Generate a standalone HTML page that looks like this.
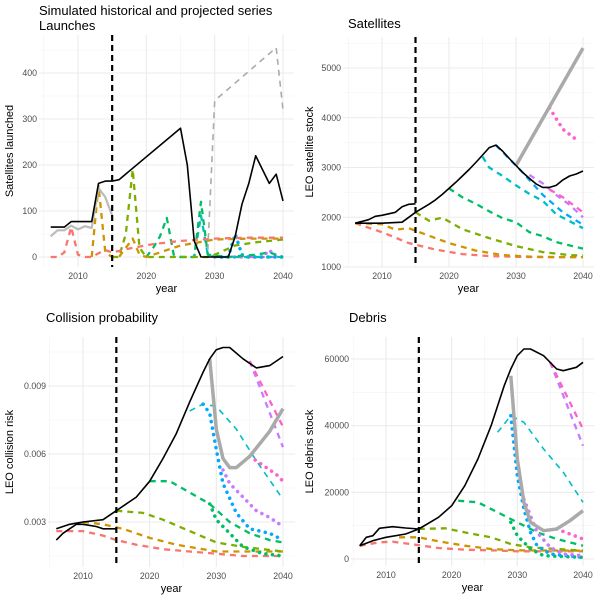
<!DOCTYPE html>
<html><head><meta charset="utf-8"><style>
html,body{margin:0;padding:0;background:#fff;}
svg{display:block;font-family:"Liberation Sans",sans-serif;}
</style></head><body>
<svg id="chart" width="600" height="600" viewBox="0 0 600 600">
<text x="39" y="15" font-size="13" fill="#000">Simulated historical and projected series</text>
</svg>
<script>
// ---- data ----
const col = {red:"#F8766D",mus:"#CD9600",grn:"#7CAE00",tea:"#00BE67",cya:"#00BFC4",blu:"#00A9FF",pur:"#C77CFF",pnk:"#FF61CC",blk:"#000",gry:"#aaa"};

const launchTicks = [0,100,200,300,400];
const launchBlack = [[2006,65],[2008,65],[2009,77],[2012,77],[2013,160],[2014,165],[2015,165],[2016,168],[2025,280],[2026,200],[2027,35],[2028,0],[2032,0],[2033,45],[2034,115],[2035,160],[2036,220],[2037,190],[2038,160],[2039,180],[2040,122]];
const launchHist = [[2006,45],[2007,58],[2008,58],[2009,68],[2010,60],[2011,67],[2012,63],[2013,150],[2014,130],[2015,90]];
const launchGreyDash = [[2029,15],[2030,340],[2039,455],[2040,320]];
const launchRed = [[2006,0],[2007,0],[2008,10],[2009,65],[2010,5],[2011,0],[2012,0],[2013,8],[2014,15],[2015,10],[2018,20],[2021,28],[2025,35],[2030,40],[2035,42],[2040,42]];
const launchMus = [[2012,0],[2013,155],[2014,10],[2015,0],[2016,0],[2017,20],[2018,40],[2019,5],[2020,0],[2022,10],[2025,25],[2030,38],[2035,40],[2040,40]];
const launchGrn = [[2015,0],[2016,0],[2017,50],[2018,190],[2019,20],[2020,0],[2029,0],[2030,5],[2033,25],[2036,32],[2040,38]];
const launchTea = [[2020,0],[2021,20],[2022,45],[2023,85],[2024,5],[2025,0],[2027,0],[2028,120],[2029,5],[2032,0],[2036,5],[2038,10],[2040,0]];
const launchCya = [[2025,0],[2027,0],[2028,90],[2029,5],[2030,0],[2040,0]];
const launchBlu = [[2031,0],[2032,0],[2033,50],[2034,5],[2035,0],[2040,0]];
const launchPur = [[2030,0],[2037,0],[2038,15],[2039,0],[2040,0]];
const launchPnk = [[2030,0],[2040,0]];

const satTicks = [1000,2000,3000,4000,5000];
const satBlack = [[2006,1880],[2010,1880],[2013,1900],[2014,2000],[2015,2100],[2016,2180],[2017,2260],[2018,2350],[2019,2460],[2020,2580],[2021,2700],[2022,2830],[2023,2960],[2024,3100],[2025,3250],[2026,3400],[2027,3450],[2028,3330],[2029,3180],[2030,3040],[2031,2900],[2032,2780],[2033,2670],[2034,2600],[2035,2600],[2036,2640],[2037,2750],[2038,2830],[2039,2870],[2040,2930]];
const satHist = [[2006,1880],[2008,1950],[2009,2020],[2010,2040],[2012,2100],[2013,2210],[2014,2260],[2015,2270]];
const satGrey = [[2030,3040],[2040,5400]];
const satRed = [[2006,1880],[2010,1700],[2014,1480],[2018,1350],[2022,1260],[2026,1220],[2030,1205],[2034,1200],[2040,1200]];
const satMus = [[2006,1880],[2010,1860],[2012,1750],[2014,1780],[2016,1680],[2020,1480],[2024,1330],[2028,1240],[2032,1210],[2036,1200],[2040,1200]];
const satGrn = [[2015,2100],[2017,1930],[2019,1990],[2022,1760],[2026,1580],[2030,1420],[2034,1300],[2038,1240],[2040,1230]];
const satTea = [[2020,2580],[2022,2400],[2024,2270],[2026,2120],[2028,1980],[2030,1900],[2032,1700],[2034,1620],[2036,1500],[2039,1400],[2040,1370]];
const satCya = [[2025,3220],[2026,3000],[2028,2830],[2030,2640],[2032,2470],[2034,2330],[2036,2060],[2038,1920],[2040,1780]];
const satBlu = [[2027,3450],[2031,2900],[2034,2450],[2037,2100],[2040,1850]];
const satPur = [[2032,2850],[2034,2680],[2036,2450],[2038,2250],[2040,2000]];
const satPnk = [[2035,2560],[2037,2400],[2040,2100]];
const satPnk2 = [[2035,4200],[2036,3980],[2037,3770],[2039,3560]];

const colTicks = [0.003,0.006,0.009];
const colBlack = [[2006,0.0027],[2008,0.0029],[2010,0.0030],[2013,0.0031],[2015,0.0035],[2018,0.0041],[2020,0.0048],[2022,0.0058],[2024,0.0069],[2026,0.0083],[2028,0.0096],[2029,0.0102],[2030,0.0106],[2031,0.0107],[2032,0.0107],[2034,0.0102],[2036,0.0098],[2038,0.0099],[2040,0.0103]];
const colHist = [[2006,0.0022],[2007,0.0025],[2009,0.0029],[2010,0.0029],[2012,0.0028],[2013,0.0027],[2015,0.0027]];
const colGrey = [[2029,0.0102],[2030,0.0071],[2031,0.0058],[2032,0.0054],[2033,0.0054],[2035,0.0059],[2038,0.0070],[2040,0.0080]];
const colRed = [[2006,0.0026],[2010,0.0026],[2013,0.0024],[2015,0.0022],[2018,0.0020],[2022,0.0018],[2026,0.0017],[2030,0.0016],[2034,0.0015],[2040,0.0015]];
const colMus = [[2010,0.0030],[2013,0.0029],[2016,0.0027],[2020,0.0023],[2024,0.0020],[2028,0.0018],[2030,0.0017],[2040,0.0017]];
const colGrn = [[2015,0.0035],[2019,0.0034],[2022,0.0031],[2026,0.0026],[2030,0.0021],[2034,0.0019],[2040,0.0017]];
const colTea = [[2020,0.0048],[2023,0.0048],[2026,0.0043],[2029,0.0038],[2032,0.0030],[2035,0.0025],[2038,0.0022],[2040,0.0021]];
const colTea2 = [[2029,0.0038],[2030,0.0031],[2032,0.0025],[2034,0.0019],[2037,0.0016],[2040,0.0015]];
const colCya = [[2026,0.0079],[2028,0.0082],[2030,0.0081],[2033,0.0071],[2036,0.0057],[2040,0.0040]];
const colBlu = [[2028,0.0082],[2029,0.0078],[2030,0.0062],[2031,0.0047],[2033,0.0034],[2035,0.0027],[2038,0.0025],[2040,0.0022]];
const colPur = [[2031,0.0053],[2032,0.0047],[2034,0.0041],[2036,0.0035],[2038,0.0032],[2040,0.0028]];
const colPurD = [[2035,0.0101],[2040,0.0063]];
const colPnkD = [[2035,0.0101],[2040,0.0072]];
const colPnk = [[2035,0.0059],[2037,0.0055],[2039,0.0051],[2040,0.0048]];

const debTicks = [0,20000,40000,60000];
const debBlack = [[2006,4000],[2008,5500],[2010,6500],[2013,7500],[2015,9000],[2018,12500],[2020,16000],[2022,22000],[2024,30000],[2026,40000],[2028,52000],[2029,57000],[2030,61000],[2031,63000],[2032,63000],[2034,61000],[2036,57000],[2037,56500],[2039,57500],[2040,59000]];
const debHist = [[2006,4000],[2007,6500],[2008,7000],[2009,9200],[2011,9700],[2013,9300],[2015,9000]];
const debGrey = [[2029,55000],[2030,30000],[2031,17000],[2032,11000],[2034,8500],[2036,9000],[2038,11500],[2040,14500]];
const debRed = [[2006,4000],[2009,5000],[2011,5200],[2014,4400],[2018,3300],[2022,2800],[2026,2600],[2030,2300],[2040,2300]];
const debMus = [[2012,6500],[2015,6500],[2018,5300],[2022,4000],[2026,3000],[2030,2600],[2040,2500]];
const debGrn = [[2015,9000],[2019,9200],[2023,7600],[2026,6500],[2029,4500],[2032,3500],[2040,2500]];
const debTea = [[2021,17500],[2024,17000],[2027,14000],[2030,11000],[2033,8000],[2036,6000],[2040,4000]];
const debTea2 = [[2029,11000],[2030,7000],[2032,3000],[2034,1000],[2040,500]];
const debCya = [[2027,38000],[2029,43000],[2031,41000],[2034,33000],[2037,26000],[2040,17000]];
const debBlu = [[2029,43000],[2030,25000],[2031,15000],[2032,8000],[2033,4000],[2035,1500],[2040,500]];
const debPur = [[2031,18000],[2033,8000],[2035,3500],[2037,1500],[2040,1000]];
const debPurD = [[2035,59000],[2040,34000]];
const debPnkD = [[2035,59000],[2040,39000]];
const debPnk = [[2036,9000],[2040,6000]];

const xTicks = [2010,2020,2030,2040];

// ---- drawing ----
const NS = "http://www.w3.org/2000/svg";
const svg = document.getElementById("chart");
function el(tag, attrs, parent){const e=document.createElementNS(NS,tag);for(const k in attrs)e.setAttribute(k,attrs[k]);(parent||svg).appendChild(e);return e;}

const DASH = "6,5", DOT = "0.1,6.5";
function panel(cfg){
  const g = el("g",{});
  
  
  const xs = v => cfg.xa + (v-2010)*(cfg.xb-cfg.xa)/30;
  const ys = v => cfg.ya + (v-cfg.v0)*(cfg.yb-cfg.ya)/(cfg.v1-cfg.v0);
  for(let yr=2005;yr<=2035;yr+=10){const l=el("line",{x1:xs(yr),x2:xs(yr),y1:cfg.top,y2:cfg.bot,stroke:"#f2f2f2","stroke-width":0.6},g);}
  const st = cfg.ticks[1]-cfg.ticks[0];
  for(let v=cfg.ticks[0]-st/2; v<=cfg.ticks[cfg.ticks.length-1]+st; v+=st){const y=ys(v); if(y<cfg.top||y>cfg.bot)continue; const l=el("line",{x1:cfg.left,x2:cfg.right,y1:y,y2:y,stroke:"#f2f2f2","stroke-width":0.6},g);}
  xTicks.forEach(yr=>{const l=el("line",{x1:xs(yr),x2:xs(yr),y1:cfg.top,y2:cfg.bot,stroke:"#ebebeb","stroke-width":1.1},g);
    const t=el("text",{x:xs(yr),y:cfg.bot+12,"font-size":8.8,fill:"#4d4d4d","text-anchor":"middle"},g);t.textContent=yr;});
  cfg.ticks.forEach(v=>{const y=ys(v);const l=el("line",{x1:cfg.left,x2:cfg.right,y1:y,y2:y,stroke:"#ebebeb","stroke-width":1.1},g);
    const t=el("text",{x:cfg.left-2,y:y+3,"font-size":8.8,fill:"#4d4d4d","text-anchor":"end"},g);t.textContent=cfg.fmt?cfg.fmt(v):v;});
  cfg.series.forEach(s=>{
    const d = s[0].map((p,i)=>(i?"L":"M")+xs(p[0]).toFixed(1)+","+ys(p[1]).toFixed(1)).join("");
    const a = {d:d,fill:"none",stroke:s[1],"stroke-width":s[3]||2,"stroke-linejoin":"round"};
    if(s[2]==="dash"){a["stroke-dasharray"]=DASH;}
    if(s[2]==="dot"){a["stroke-dasharray"]=DOT;a["stroke-linecap"]="round";a["stroke-width"]=3.5;}
    const p = el("path",a,g);
    
    
  });
  const vl = el("line",{x1:xs(2015),x2:xs(2015),y1:cfg.top,y2:cfg.bot,stroke:"#000","stroke-width":2.2,"stroke-dasharray":"6,4"},g);
  
  
  const tt = el("text",{x:cfg.tx,y:cfg.ty,"font-size":13,fill:"#000"},g);tt.textContent=cfg.title;
  
  
  const xt = el("text",{x:(cfg.left+cfg.right)/2,y:cfg.bot+25,"font-size":11,fill:"#000","text-anchor":"middle"},g);xt.textContent="year";
  
  
  const cy=(cfg.top+cfg.bot)/2;
  const yt = el("text",{x:cfg.ytx,y:cy,"font-size":11,fill:"#000","text-anchor":"middle",transform:"rotate(-90 "+cfg.ytx+" "+cy+")"},g);yt.textContent=cfg.ytitle;
  
  
}

panel({name:"launches",title:"Launches",tx:39,ty:30,ytitle:"Satellites launched",ytx:13,
  xa:78,xb:283,v0:0,v1:400,ya:257,yb:73,top:35,bot:267,left:39,right:294,ticks:launchTicks,
  series:[[launchPnk,col.pnk,"dash",2.3,"pink-series"],[launchPur,col.pur,"dot",2,"purple-series"],[launchBlu,col.blu,"dot",2,"blue-series"],[launchCya,col.cya,"dash",2.3,"cyan-series"],
    [launchTea,col.tea,"dash",2.3,"teal-series"],[launchGrn,col.grn,"dash",2.3,"green-series"],[launchMus,col.mus,"dash",2.3,"mustard-series"],[launchRed,col.red,"dash",2.3,"red-series"],
    [launchGreyDash,col.gry,"dash",1.6,"grey-dashed-series"],[launchHist,"#bbb","solid",2.2,"historical-series"],[launchBlack,col.blk,"solid",1.6,"total-series"]]});

panel({name:"satellites",title:"Satellites",tx:348,ty:28,ytitle:"LEO satellite stock",ytx:313,
  xa:382,xb:583,v0:1000,v1:5000,ya:267,yb:68,top:37,bot:267,left:343,right:594,ticks:satTicks,
  series:[[satRed,col.red,"dash",2.3,"red-series"],[satMus,col.mus,"dash",2.3,"mustard-series"],[satGrn,col.grn,"dash",2.3,"green-series"],[satTea,col.tea,"dash",2.3,"teal-series"],
    [satCya,col.cya,"dash",2.3,"cyan-series"],[satBlu,col.blu,"dash",2.3,"blue-series"],[satPur,col.pur,"dash",2.3,"purple-series"],[satPnk,col.pnk,"dash",2.3,"pink-series"],[satPnk2,col.pnk,"dot",2,"pink-dotted-series"],
    [satGrey,col.gry,"solid",3.5,"grey-series"],[satHist,col.blk,"solid",1.6,"historical-series"],[satBlack,col.blk,"solid",1.6,"total-series"]]});

panel({name:"collision",title:"Collision probability",tx:46,ty:322,ytitle:"LEO collision risk",ytx:13,
  xa:83,xb:283,v0:0.003,v1:0.009,ya:522,yb:386,top:337,bot:567,left:48,right:295,ticks:colTicks,fmt:v=>v.toFixed(3),
  series:[[colRed,col.red,"dash",2.3,"red-series"],[colMus,col.mus,"dash",2.3,"mustard-series"],[colGrn,col.grn,"dash",2.3,"green-series"],[colTea,col.tea,"dash",2.3,"teal-series"],[colTea2,col.tea,"dot",2,"teal-dotted-series"],
    [colCya,col.cya,"dash",1.6,"cyan-series"],[colBlu,col.blu,"dot",2,"blue-dotted-series"],[colPur,col.pur,"dot",2,"purple-dotted-series"],[colPurD,col.pur,"dash",2.3,"purple-series"],[colPnkD,col.pnk,"dash",2.3,"pink-series"],[colPnk,col.pnk,"dot",2,"pink-dotted-series"],
    [colGrey,col.gry,"solid",3.5,"grey-series"],[colHist,col.blk,"solid",1.6,"historical-series"],[colBlack,col.blk,"solid",1.6,"total-series"]]});

panel({name:"debris",title:"Debris",tx:349,ty:322,ytitle:"LEO debris stock",ytx:313,
  xa:386,xb:583,v0:0,v1:60000,ya:559,yb:359,top:337,bot:566,left:351,right:594,ticks:debTicks,
  series:[[debRed,col.red,"dash",2.3,"red-series"],[debMus,col.mus,"dash",2.3,"mustard-series"],[debGrn,col.grn,"dash",2.3,"green-series"],[debTea,col.tea,"dash",2.3,"teal-series"],[debTea2,col.tea,"dot",2,"teal-dotted-series"],
    [debCya,col.cya,"dash",1.6,"cyan-series"],[debBlu,col.blu,"dot",2,"blue-dotted-series"],[debPur,col.pur,"dot",2,"purple-dotted-series"],[debPurD,col.pur,"dash",2.3,"purple-series"],[debPnkD,col.pnk,"dash",2.3,"pink-series"],[debPnk,col.pnk,"dot",2,"pink-dotted-series"],
    [debGrey,col.gry,"solid",3.5,"grey-series"],[debHist,col.blk,"solid",1.6,"historical-series"],[debBlack,col.blk,"solid",1.6,"total-series"]]});
</script>
</body></html>
